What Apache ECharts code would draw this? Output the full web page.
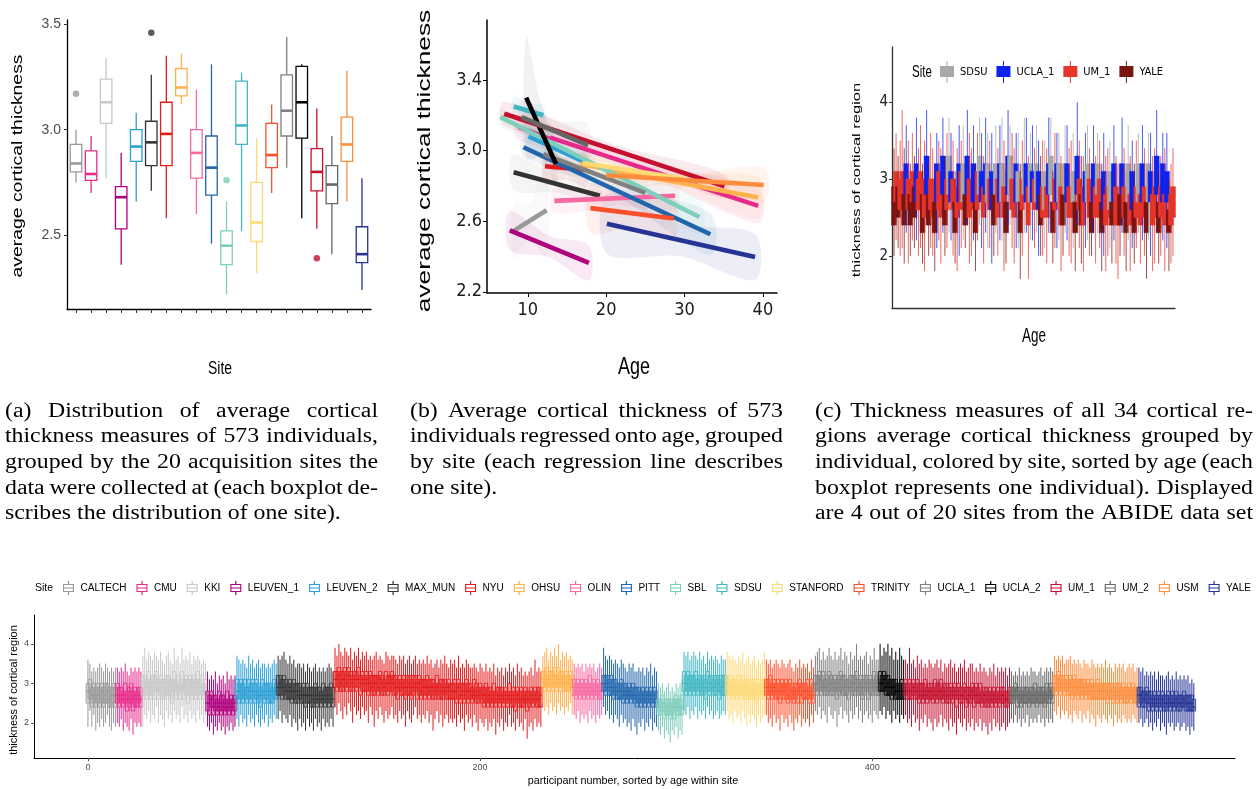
<!DOCTYPE html>
<html>
<head>
<meta charset="utf-8">
<script src="https://cdn.jsdelivr.net/npm/echarts@6/dist/echarts.min.js"></script>
<style>
  html, body { margin: 0; padding: 0; background: #fff; }
  #main { width: 1257px; height: 789px; }
</style>
</head>
<body>
<div id="main"></div>
<script>
// sites, in legend order
const sites = ['CALTECH', 'CMU', 'KKI', 'LEUVEN_1', 'LEUVEN_2', 'MAX_MUN', 'NYU', 'OHSU', 'OLIN', 'PITT',
  'SBL', 'SDSU', 'STANFORD', 'TRINITY', 'UCLA_1', 'UCLA_2', 'UM_1', 'UM_2', 'USM', 'YALE'];
const siteColors = ['#999999', '#e7298a', '#c8c8c8', '#ae017e', '#2c9fd6', '#333333', '#e31a1c', '#feb24c', '#f768a1', '#2166ac',
  '#7fcdbb', '#41b6c4', '#fed976', '#fc4e2a', '#808080', '#000000', '#c4102e', '#666666', '#fd8d3c', '#253494'];

// (a) one boxplot per site
const boxLow = [2.75, 2.70, 2.77, 2.36, 2.66, 2.71, 2.58, 3.12, 2.60, 2.46, 2.22, 2.52, 2.32, 2.70, 2.82, 2.58, 2.53, 2.41, 2.66, 2.24];
const boxQ1 = [2.80, 2.76, 3.03, 2.53, 2.85, 2.83, 2.83, 3.16, 2.77, 2.69, 2.36, 2.93, 2.47, 2.82, 2.97, 2.96, 2.71, 2.65, 2.85, 2.37];
const boxMed = [2.84, 2.79, 3.13, 2.68, 2.92, 2.94, 2.98, 3.20, 2.89, 2.82, 2.45, 3.02, 2.56, 2.88, 3.09, 3.13, 2.80, 2.74, 2.93, 2.41];
const boxQ3 = [2.93, 2.90, 3.24, 2.73, 3.00, 3.04, 3.13, 3.29, 3.00, 2.97, 2.52, 3.23, 2.75, 3.03, 3.26, 3.30, 2.91, 2.83, 3.06, 2.54];
const boxHigh = [3.00, 2.97, 3.34, 2.89, 3.08, 3.26, 3.35, 3.36, 3.19, 3.31, 2.66, 3.27, 2.96, 3.12, 3.44, 3.31, 3.10, 2.97, 3.28, 2.77];
const boxOutliers = [[1, 3.17], [6, 3.46], [11, 2.76], [17, 2.39]]; // [site position, value]

// (b) regression line per site: age range, fitted ends, ribbon half widths
const regX0 = [8.2, 8.8, 9.5, 7.7, 10.1, 8.2, 12.2, 16.7, 13.4, 9.45, 6.5, 8.2, 17.0, 18.0, 12.0, 9.8, 7.0, 9.2, 20.0, 20.1];
const regX1 = [12.4, 39.4, 13.0, 17.8, 17.5, 19.2, 17.5, 39.4, 28.8, 33.3, 31.9, 12.0, 30.0, 28.6, 25.0, 13.6, 35.1, 17.7, 40.1, 39.0];
const regY0 = [2.545, 3.133, 3.15, 2.548, 3.08, 2.877, 2.911, 2.924, 2.715, 3.019, 3.19, 3.25, 2.93, 2.674, 2.98, 3.30, 3.209, 3.19, 2.86, 2.586];
const regY1 = [2.662, 2.687, 3.09, 2.364, 2.93, 2.744, 2.89, 2.734, 2.744, 2.526, 2.624, 3.20, 2.84, 2.615, 2.76, 2.924, 2.797, 3.03, 2.805, 2.397];
const regSe0 = [0.16, 0.07, 0.10, 0.11, 0.08, 0.10, 0.10, 0.06, 0.07, 0.05, 0.05, 0.06, 0.05, 0.14, 0.08, 0.35, 0.07, 0.10, 0.06, 0.17];
const regSeMid = [0.10, 0.03, 0.06, 0.06, 0.04, 0.05, 0.06, 0.03, 0.04, 0.03, 0.03, 0.04, 0.03, 0.08, 0.04, 0.15, 0.03, 0.06, 0.03, 0.09];
const regSe1 = [0.28, 0.10, 0.12, 0.10, 0.08, 0.05, 0.10, 0.12, 0.08, 0.12, 0.10, 0.06, 0.06, 0.12, 0.10, 0.12, 0.07, 0.12, 0.10, 0.13];

// per individual boxplots: [low, q1, median, q3, high] in tenths, sorted by age within site
const indCALTECH = [[19,25,28,30,36],[23,26,28,31,35],[19,24,27,29,33],[22,25,27,30,34],[18,24,26,29,33],[20,25,27,30,34],[19,24,27,29,35],[21,25,28,30,34],[19,24,26,29,33],[20,25,27,30,35],[22,25,28,30,34],[19,24,26,29,33],[18,24,27,29,34],[20,25,27,30,33],[19,24,27,29,34]];
const indCMU = [[20,25,27,30,34],[19,24,26,29,33],[21,25,27,29,34],[18,24,26,28,33],[20,25,27,30,35],[19,23,26,28,33],[18,24,26,29,32],[21,25,28,30,34],[17,23,26,28,33],[20,24,27,29,34],[19,24,26,28,33],[20,25,27,29,34],[19,24,26,29,33]];
const indKKI = [[19,27,29,32,37],[22,27,30,32,39],[21,26,29,31,36],[23,27,30,33,38],[20,26,29,31,37],[22,27,30,32,36],[21,26,29,32,38],[24,28,30,33,37],[20,26,28,31,36],[22,27,30,32,38],[21,26,29,31,36],[19,26,28,31,35],[23,27,30,32,37],[21,27,29,32,38],[22,26,29,31,36],[20,25,28,31,35],[23,28,30,33,39],[21,26,29,31,36],[22,27,29,32,37],[20,26,28,30,35],[24,28,31,33,39],[21,26,29,31,36],[22,27,30,32,37],[20,25,28,31,36],[23,27,29,32,38],[21,26,29,31,35],[22,27,30,32,37],[20,26,28,31,36],[23,27,30,33,37],[21,26,29,31,36],[22,27,29,32,35],[20,26,28,30,36],[22,27,29,31,35]];
const indLEUVEN_1 = [[19,23,25,28,33],[18,22,25,27,31],[20,24,26,28,32],[17,22,24,27,31],[19,23,25,27,33],[18,22,24,26,30],[20,23,25,28,32],[18,22,24,27,31],[19,23,25,27,32],[17,22,24,26,30],[19,23,25,28,33],[18,22,24,26,31],[20,23,25,27,32],[18,22,24,26,31],[19,23,25,27,32]];
const indLEUVEN_2 = [[21,26,28,31,37],[19,25,28,30,36],[22,26,29,31,35],[20,25,27,30,36],[21,26,28,31,35],[19,25,27,29,34],[22,26,29,31,37],[20,25,28,30,35],[21,26,28,31,36],[19,25,27,30,34],[22,26,28,31,35],[20,25,27,30,36],[19,24,27,29,34],[21,26,28,31,35],[20,25,27,30,35],[22,26,28,30,34],[19,25,27,30,35],[21,25,28,30,34],[20,25,27,29,35],[22,26,28,31,36],[21,26,28,30,35]];
const indMAX_MUN = [[21,27,29,32,37],[23,27,30,32,36],[20,26,29,31,37],[22,27,29,32,38],[21,26,28,31,36],[20,26,28,30,35],[22,26,29,31,37],[19,25,28,30,35],[21,26,28,31,36],[20,25,28,30,34],[18,25,27,30,35],[21,26,28,30,35],[19,25,27,29,34],[20,25,27,30,35],[18,24,27,29,33],[21,25,27,30,35],[19,25,27,29,34],[20,24,27,29,33],[18,24,26,29,34],[21,25,27,30,35],[19,24,26,29,33],[20,25,27,29,34],[18,24,26,28,33],[21,25,27,30,34],[19,24,26,29,33],[20,25,27,29,34],[19,24,26,29,35],[21,25,27,30,34],[19,24,26,29,33]];
const indNYU = [[24,29,31,33,39],[22,28,31,33,37],[25,29,32,34,40],[23,28,30,33,38],[21,28,31,33,37],[24,29,31,34,39],[22,28,30,33,38],[25,29,32,34,37],[23,28,31,33,39],[20,28,30,32,36],[24,29,31,33,38],[22,28,31,33,37],[23,29,31,34,39],[21,27,30,32,36],[24,28,31,33,38],
  [22,28,30,32,37],[23,28,31,33,38],[20,27,30,32,36],[24,28,30,33,37],[22,27,29,32,36],[19,27,30,32,37],[23,28,30,32,38],[21,27,29,32,36],[24,28,31,33,37],[22,27,30,32,36],[20,27,29,31,35],[23,28,30,33,38],[21,27,30,32,37],[22,28,30,32,36],[24,28,31,33,37],
  [21,27,30,32,37],[22,27,29,32,36],[20,26,29,31,35],[23,28,30,32,37],[21,27,29,31,36],[22,27,30,32,37],[19,26,29,31,35],[23,27,29,32,36],[21,27,30,32,37],[20,26,29,31,35],[22,27,29,32,36],[24,28,30,32,37],[21,26,29,31,35],[22,27,30,32,36],[20,26,28,31,35],
  [22,27,29,31,36],[21,26,29,31,35],[23,27,29,32,37],[20,26,28,31,35],[22,27,29,31,36],[18,26,29,31,34],[21,26,28,30,35],[23,27,29,32,36],[20,26,28,30,34],[22,26,29,31,36],[19,26,28,31,35],[21,27,29,31,37],[22,26,28,30,35],[20,26,29,31,34],[21,26,28,30,36],
  [20,26,28,30,35],[21,26,28,31,36],[19,25,28,30,34],[22,26,29,31,37],[20,25,27,30,34],[21,26,28,30,35],[18,25,27,30,34],[22,26,28,31,36],[20,25,28,30,35],[21,26,28,30,34],[19,25,27,29,34],[22,26,28,31,35],[20,25,27,30,34],[18,25,27,29,33],[21,26,28,30,35],
  [20,25,27,29,34],[19,24,27,29,33],[21,25,27,30,35],[18,24,26,29,33],[20,25,27,29,34],[19,24,26,28,33],[21,25,27,30,35],[17,24,26,28,32],[20,25,27,29,34],[19,24,26,29,33],[21,25,27,29,34],[18,24,26,28,32],[20,25,27,29,34],[19,24,26,28,33],[22,25,27,30,35],
  [19,24,26,28,33],[20,24,27,29,34],[18,23,26,28,32],[21,25,27,29,35],[19,24,26,28,33],[20,24,26,29,34],[18,24,26,28,32],[21,25,27,29,33],[16,23,26,28,32],[19,24,26,28,33],[20,25,27,29,34],[18,24,26,28,32],[21,25,27,29,36],[19,24,26,28,33],[20,24,26,29,34],[19,24,27,29,33]];
const indOHSU = [[25,29,31,33,37],[23,28,30,33,38],[24,29,31,34,39],[22,28,30,32,36],[25,29,31,33,38],[23,28,30,33,37],[24,29,32,34,39],[22,28,30,32,37],[25,29,31,34,40],[23,28,30,33,36],[24,29,31,33,38],[22,28,30,32,37],[24,28,30,33,38],[23,28,30,32,36],[25,29,31,33,37],[22,27,29,32,36]];
const indOLIN = [[22,27,29,31,35],[21,26,28,30,34],[23,27,29,31,35],[20,26,28,30,34],[22,27,29,31,35],[21,26,28,30,33],[22,27,29,31,35],[20,26,28,30,34],[23,27,29,32,35],[21,26,28,30,34],[22,27,28,31,35],[20,26,28,30,33],[22,27,29,31,34],[21,26,28,30,35],[22,26,28,30,34]];
const indPITT = [[24,28,30,32,39],[22,27,29,32,37],[23,28,30,32,36],[21,27,29,31,37],[22,27,29,32,36],[20,26,28,31,35],[22,27,29,31,36],[21,26,28,30,35],[19,26,28,30,34],[22,26,28,31,36],[20,25,27,30,35],[21,26,28,30,34],[19,25,27,29,33],[20,26,28,30,35],[18,25,27,29,34],[21,26,27,30,35],[19,25,27,29,33],[17,24,26,29,33],[20,25,27,29,34],[19,24,26,28,33],[21,25,27,29,34],[18,24,26,28,32],[20,25,27,29,34],[19,24,26,28,33],[21,25,27,29,35],[18,24,26,28,32],[20,25,27,29,34],[19,24,26,28,33]];
const indSBL = [[18,22,24,26,30],[17,22,24,26,29],[19,23,25,27,30],[16,21,23,25,28],[18,22,24,26,29],[17,22,24,26,30],[15,21,23,25,28],[18,22,24,26,29],[17,21,24,26,28],[19,23,25,27,30],[16,22,24,26,29],[18,22,24,26,30],[17,22,24,27,31]];
const indSDSU = [[23,28,30,33,38],[22,27,30,32,37],[24,28,31,33,38],[21,27,29,32,36],[23,28,30,32,37],[22,27,29,32,38],[24,28,30,33,37],[21,27,29,31,36],[23,28,30,32,38],[22,27,30,32,36],[23,27,29,32,37],[21,26,29,31,35],[24,28,30,33,38],[22,27,29,32,36],[23,28,30,32,37],[21,27,29,31,36],[22,27,29,32,37],[23,28,30,32,36],[21,26,28,31,35],[22,27,29,32,37],[23,27,29,32,36],[22,27,30,32,36]];
const indSTANFORD = [[23,27,29,32,38],[21,26,29,31,37],[22,27,29,32,36],[20,26,28,31,37],[23,27,29,31,36],[21,26,28,31,35],[22,27,29,32,37],[20,26,28,30,36],[23,27,29,32,38],[21,26,28,31,35],[19,26,28,31,36],[22,27,29,31,37],[20,26,28,30,35],[22,26,28,31,36],[21,26,28,31,37],[19,25,28,30,34],[22,27,29,31,36],[20,26,28,30,35],[21,26,28,31,36],[22,27,29,31,38]];
const indTRINITY = [[22,27,29,31,36],[20,26,28,31,35],[21,27,29,32,36],[19,26,28,30,34],[22,27,29,31,35],[20,26,28,30,36],[21,26,28,31,35],[18,25,28,30,34],[22,27,29,31,36],[20,26,28,30,35],[21,26,29,31,34],[19,25,27,30,35],[22,26,28,31,36],[20,26,28,30,34],[18,25,27,29,33],[21,26,28,30,35],[20,25,28,30,34],[22,27,29,31,36],[19,25,27,30,34],[21,26,28,30,35],[20,26,28,30,34],[21,26,28,31,35],[19,25,27,29,33],[22,26,28,31,36],[20,25,27,30,34]];
const indUCLA_1 = [[23,28,30,32,37],[22,27,30,32,38],[24,28,31,33,39],[21,27,29,32,36],[23,28,30,33,38],[22,27,29,31,36],[20,27,29,32,37],[24,28,30,33,39],[22,27,30,32,37],[21,27,29,31,36],[23,28,30,32,38],[19,26,29,31,36],[22,27,30,32,37],[24,28,31,33,39],[21,27,29,32,36],[23,27,30,32,38],[22,27,29,31,37],[20,26,29,31,35],[23,28,30,32,38],[21,27,29,32,36],[22,27,30,32,37],[24,28,31,33,40],[21,27,29,31,36],[23,27,30,32,37],[20,26,29,31,36],[22,27,29,32,37],[23,28,30,32,38],[21,26,29,31,35],[22,27,30,32,37],[20,27,29,31,36],[23,28,30,33,39],[22,27,29,32,36],[21,27,29,31,36]];
const indUCLA_2 = [[23,28,30,33,40],[22,28,30,32,37],[24,28,31,33,39],[21,27,29,32,38],[23,27,30,32,40],[22,27,29,31,37],[20,26,29,31,39],[23,27,29,31,36],[21,26,28,31,38],[22,26,28,30,36],[20,26,28,30,39],[22,26,28,31,37],[21,26,28,30,36]];
const indUM_1 = [[22,27,29,31,36],[20,26,28,30,35],[21,26,28,31,39],[19,26,28,30,35],[22,27,29,31,36],[20,26,28,30,34],[21,26,28,31,37],[18,25,27,30,35],[21,26,28,30,36],[20,25,27,30,34],[22,26,28,31,35],[19,25,27,29,34],[21,26,28,30,36],[20,26,28,30,35],[18,25,27,29,34],[21,26,28,31,35],[19,25,27,30,36],[20,26,28,30,34],[22,26,28,31,36],[19,25,27,29,33],[21,26,28,30,35],[20,25,27,30,34],[18,25,27,29,35],[21,26,28,30,36],[19,25,27,29,34],[20,26,28,30,35],[17,24,27,29,33],[21,26,28,30,34],[20,25,27,29,35],[19,25,27,29,34],[21,26,28,30,36],[18,24,26,29,33],[20,25,27,29,34],[19,25,27,29,35],[21,26,28,30,35],[18,24,27,29,33],[20,25,27,30,34],[19,25,27,29,33],[21,25,27,30,35],[18,24,26,28,33],[20,25,27,29,34],[19,24,27,29,33],[17,24,26,28,32],[20,25,27,29,34],[18,24,26,28,33],[21,25,27,29,35],[19,24,26,28,32],[20,25,27,29,34],[18,24,26,28,33],[19,25,27,29,34],[20,25,27,29,33],[18,24,26,28,34],[19,24,26,28,32],[20,25,27,29,34]];
const indUM_2 = [[21,25,27,29,33],[20,25,27,29,32],[22,26,28,30,33],[20,24,27,29,32],[21,25,27,29,34],[19,24,26,28,32],[21,25,27,29,33],[20,25,27,29,32],[22,25,27,29,33],[19,24,26,28,32],[21,25,27,29,34],[20,25,27,29,33],[21,25,27,30,33],[20,24,26,28,32],[22,25,27,29,33],[20,25,27,29,34],[21,25,27,29,32],[19,24,26,28,33],[21,25,27,30,34],[20,25,27,29,33],[21,26,28,30,34],[20,25,27,29,33]];
const indUSM = [[23,28,30,32,37],[22,27,30,32,36],[24,28,31,33,37],[21,27,29,32,36],[23,28,30,32,37],[22,27,29,31,35],[23,28,30,32,36],[21,27,29,31,36],[22,27,30,32,37],[20,26,29,31,35],[23,27,29,32,36],[22,27,29,31,35],[21,26,28,31,36],[23,27,29,31,35],[20,26,28,31,34],[22,27,29,31,36],[21,26,28,30,35],[23,27,29,31,35],[20,26,28,30,34],[22,26,28,31,36],[21,26,28,30,35],[19,26,28,30,34],[22,26,28,31,35],[21,26,28,30,34],[20,26,28,30,35],[22,26,28,30,34],[21,26,28,30,36],[20,25,27,30,34],[22,26,28,30,35],[21,26,28,30,34],[19,25,27,29,33],[22,26,28,30,35],[20,25,27,30,34],[21,26,28,30,35],[20,25,27,29,34],[22,26,28,30,35],[21,25,27,29,33],[20,25,27,29,34],[21,26,28,30,35],[20,25,27,29,34],[22,26,28,30,35],[21,25,27,29,33],[20,25,27,29,34]];
const indYALE = [[20,24,27,29,34],[21,25,27,29,33],[19,24,26,28,34],[20,24,26,28,32],[21,25,27,29,33],[19,23,25,28,32],[20,24,26,28,33],[18,23,25,27,32],[20,24,26,28,33],[19,23,25,27,31],[21,24,26,28,33],[18,23,25,27,32],[20,24,26,28,32],[19,23,25,27,31],[17,23,25,27,32],[20,24,26,28,33],[19,23,25,27,31],[20,24,25,28,32],[18,23,25,27,31],[19,24,26,28,33],[20,23,25,27,31],[18,23,25,27,32],[19,24,25,27,31],[20,24,26,28,32],[18,23,25,27,31],[19,23,25,27,32],[17,23,25,27,30],[19,23,25,27,31],[18,23,24,26,30]];
const individuals = [indCALTECH, indCMU, indKKI, indLEUVEN_1, indLEUVEN_2, indMAX_MUN, indNYU, indOHSU, indOLIN, indPITT,
  indSBL, indSDSU, indSTANFORD, indTRINITY, indUCLA_1, indUCLA_2, indUM_1, indUM_2, indUSM, indYALE];

// (c) four sites, individuals interleaved by age (S=SDSU, U=UCLA_1, M=UM_1, Y=YALE)
const cSites = ['SDSU', 'UCLA_1', 'UM_1', 'YALE'];
const cCodes = ['S', 'U', 'M', 'Y'];
const cColors = ['#a8a8a8', '#0b22f0', '#e5352b', '#7a1410'];
const cAgeOrder = 'YMYMMYUMYMYUMMYMUYMMYUM' + 'MUYMSUMYMUMSYUMMUYMSUMU' + 'SMUYSMUSMYUSMMUSYMSUMSU' +
  'MSUYMSMUSYMUSMYSUMMSYUM' + 'YMUSMYUMSMYUMMSYUMMYUMY' + 'SMUYMSMUMYSUMMUYMUMUYMM';

// captions
const capA = ['(a) Distribution of average cortical', 'thickness measures of 573 individuals,',
  'grouped by the 20 acquisition sites the', 'data were collected at (each boxplot de-', 'scribes the distribution of one site).'];
const capB = ['(b) Average cortical thickness of 573', 'individuals regressed onto age, grouped',
  'by site (each regression line describes', 'one site).'];
const capC = ['(c) Thickness measures of all 34 cortical re-', 'gions  average cortical thickness grouped by',
  'individual, colored by site, sorted by age (each', 'boxplot represents one individual). Displayed',
  'are 4 out of 20 sites from the ABIDE data set'];

const SANS = '"Liberation Sans", Arial, sans-serif';
const NARROW = '"Liberation Sans Narrow", "DejaVu Sans Condensed", "Liberation Sans", sans-serif';
const SERIF = '"Liberation Serif", "Times New Roman", serif';

function rgba(hex, a) {
  const n = parseInt(hex.slice(1), 16);
  return 'rgba(' + (n >> 16) + ',' + ((n >> 8) & 255) + ',' + (n & 255) + ',' + a + ')';
}

// draws one boxplot glyph from [x, low, q1, med, q3, high]
function boxRender(colorOf, o) {
  return function (params, api) {
    const x = api.value(0);
    const lo = api.coord([x, api.value(1)]);
    const q1 = api.coord([x, api.value(2)]);
    const md = api.coord([x, api.value(3)]);
    const q3 = api.coord([x, api.value(4)]);
    const hi = api.coord([x, api.value(5)]);
    const c = colorOf(params, api);
    const cx = lo[0];
    const h = o.width / 2;
    const wStyle = { stroke: c, lineWidth: o.whisker, opacity: o.whiskerOpacity };
    return {
      type: 'group',
      children: [
        { type: 'line', shape: { x1: cx, y1: hi[1], x2: cx, y2: q3[1] }, style: wStyle },
        { type: 'line', shape: { x1: cx, y1: q1[1], x2: cx, y2: lo[1] }, style: wStyle },
        { type: 'rect', shape: { x: cx - h, y: q3[1], width: o.width, height: q1[1] - q3[1] },
          style: { fill: o.fill(c), stroke: c, lineWidth: o.border } },
        { type: 'line', shape: { x1: cx - h, y1: md[1], x2: cx + h, y2: md[1] }, style: { stroke: c, lineWidth: o.median } }
      ]
    };
  };
}

function caption(lines, left, right, top, justifyLast) {
  const size = 20, sx = 1.19, step = 25.6;
  const font = size + 'px ' + SERIF;
  const ctx = document.createElement('canvas').getContext('2d');
  ctx.font = font;
  const out = [];
  lines.forEach((line, i) => {
    const y = top + i * step;
    const words = line.split(' ').filter(w => w.length);
    const widths = words.map(w => ctx.measureText(w).width * sx);
    const just = (i < lines.length - 1 || justifyLast) && words.length > 1;
    const space = ctx.measureText(' ').width * sx;
    const total = widths.reduce((a, b) => a + b, 0);
    const gap = just ? (right - left - total) / (words.length - 1) : space;
    let x = left;
    words.forEach((w, j) => {
      out.push({ type: 'text', x: x, y: y, scaleX: sx, silent: true,
        style: { text: w, font: font, fill: '#000', verticalAlign: 'middle', textVerticalAlign: 'middle' } });
      x += widths[j] + gap;
    });
  });
  return out;
}

function title(text, x, y, size, opts) {
  return Object.assign({ type: 'text', x: x, y: y, silent: true,
    style: { text: text, font: size + 'px ' + SANS, fill: opts.color || '#000',
      align: 'center', textAlign: 'center', verticalAlign: 'middle', textVerticalAlign: 'middle' } }, opts.t || {});
}

// legend glyph: boxplot outline with whiskers, and a filled one for (c)
const iconBoxOutline = 'path://M6.4 0H7.6V3H6.4Z M1.5 3H12.5V11H1.5Z M2.6 4.1V6.4H11.4V4.1Z M2.6 7.6V9.9H11.4V7.6Z M6.4 11H7.6V14H6.4Z';
const iconBoxFilled = 'path://M6.5 0H7.5V5H6.5Z M0 5H14V16H0Z M6.5 16H7.5V22H6.5Z';

const chart = echarts.init(document.getElementById('main'));

// (a) series
const aData = sites.map((s, i) => [i + 1, boxLow[i], boxQ1[i], boxMed[i], boxQ3[i], boxHigh[i]]);
const series = [{
  type: 'custom', xAxisIndex: 0, yAxisIndex: 0, name: 'sites',
  renderItem: boxRender(p => siteColors[p.dataIndex],
    { width: 11.5, whisker: 1.3, whiskerOpacity: 1, border: 1.3, median: 2.6, fill: () => '#fff' }),
  data: aData, z: 2
}, {
  type: 'scatter', xAxisIndex: 0, yAxisIndex: 0, symbolSize: 6.5,
  data: boxOutliers.map(o => ({ value: o, itemStyle: { color: siteColors[o[0] - 1] } })), z: 3
}];

// (b) ribbons then lines
const greyish = ['#999999', '#c8c8c8', '#333333', '#808080', '#000000', '#666666'];
series.push({
  type: 'custom', xAxisIndex: 1, yAxisIndex: 1, z: 2,
  renderItem: function (params, api) {
    const i = params.dataIndex;
    const xm = (regX0[i] + regX1[i]) / 2, ym = (regY0[i] + regY1[i]) / 2;
    const pts = [[regX0[i], regY0[i] + regSe0[i]], [xm, ym + regSeMid[i]], [regX1[i], regY1[i] + regSe1[i]],
      [regX1[i], regY1[i] - regSe1[i]], [xm, ym - regSeMid[i]], [regX0[i], regY0[i] - regSe0[i]]].map(p => api.coord(p));
    const a = greyish.indexOf(siteColors[i]) >= 0 ? 0.05 : 0.085;
    return { type: 'polygon', shape: { points: pts, smooth: 0.3 }, style: { fill: rgba(siteColors[i], a) } };
  },
  data: sites.map((s, i) => [regX0[i], regY0[i]])
});
sites.forEach((s, i) => {
  series.push({
    type: 'line', xAxisIndex: 1, yAxisIndex: 1, name: 'reg_' + s, showSymbol: false, z: 3,
    lineStyle: { color: siteColors[i], width: 4.6, cap: 'butt' },
    data: [[regX0[i], regY0[i]], [regX1[i], regY1[i]]]
  });
});

// (c) interleaved individuals, drawn in age order
const cData = [];
const cNext = [0, 0, 0, 0];
cAgeOrder.split('').forEach((code, pos) => {
  const k = cCodes.indexOf(code);
  const list = individuals[sites.indexOf(cSites[k])];
  const t = list[cNext[k]++];
  if (t) cData.push([pos, t[0] / 10, t[1] / 10, t[2] / 10, t[3] / 10, t[4] / 10, k]);
});
series.push({
  type: 'custom', xAxisIndex: 2, yAxisIndex: 2, z: 2,
  renderItem: boxRender((p, api) => cColors[api.value(6)],
    { width: 5, whisker: 1, whiskerOpacity: 0.75, border: 0.5, median: 0.8, fill: c => c }),
  data: cData
});
cSites.forEach((s, k) => {
  series.push({ type: 'custom', name: 'c:' + s, xAxisIndex: 2, yAxisIndex: 2,
    itemStyle: { color: cColors[k] }, renderItem: () => null, data: [] });
});

// bottom: every individual
let pos = 0;
sites.forEach((s, k) => {
  const data = individuals[k].map(t => [pos++, t[0] / 10, t[1] / 10, t[2] / 10, t[3] / 10, t[4] / 10]);
  series.push({
    type: 'custom', name: s, xAxisIndex: 3, yAxisIndex: 3, z: 2,
    itemStyle: { color: siteColors[k] },
    renderItem: boxRender(() => siteColors[k],
      { width: 3.6, whisker: 1, whiskerOpacity: 1, border: 0.8, median: 1, fill: c => rgba(c, 0.45) }),
    data: data
  });
});

const axisBase = { type: 'value', splitLine: { show: false } };
const line = (color, width) => ({ onZero: false, lineStyle: { color: color, width: width } });
const option = {
  animation: false,
  backgroundColor: '#fff',
  grid: [
    { left: 67, top: 20, width: 304, height: 289, outerBoundsMode: 'none' },
    { left: 487, top: 20, width: 290, height: 273, outerBoundsMode: 'none' },
    { left: 892, top: 47, width: 283, height: 261, outerBoundsMode: 'none' },
    { left: 34, top: 615, width: 1201, height: 143, outerBoundsMode: 'none' }
  ],
  xAxis: [
    Object.assign({}, axisBase, { gridIndex: 0, min: 0.4, max: 20.6, axisLine: line('#000', 1.3),
      axisTick: { customValues: sites.map((s, i) => i + 1), length: 4, lineStyle: { color: '#333' } },
      axisLabel: { show: false } }),
    Object.assign({}, axisBase, { gridIndex: 1, min: 4.8, max: 41.8, axisLine: line('#000', 1.5),
      axisTick: { customValues: [10, 20, 30, 40], length: 4, lineStyle: { color: '#000' } },
      axisLabel: { customValues: [10, 20, 30, 40], fontSize: 18, fontFamily: NARROW, color: '#1a1a1a', margin: 8 } }),
    Object.assign({}, axisBase, { gridIndex: 2, min: -1, max: 138, axisLine: line('#333', 1.3),
      axisTick: { show: false }, axisLabel: { show: false } }),
    Object.assign({}, axisBase, { gridIndex: 3, min: -27.5, max: 585, axisLine: line('#000', 1),
      axisTick: { customValues: [0, 200, 400], length: 3, lineStyle: { color: '#555' } },
      axisLabel: { customValues: [0, 200, 400], fontSize: 9, fontFamily: SANS, color: '#4d4d4d', margin: 5 } })
  ],
  yAxis: [
    Object.assign({}, axisBase, { gridIndex: 0, min: 2.15, max: 3.52, axisLine: line('#000', 1.3),
      axisTick: { customValues: [2.5, 3, 3.5], length: 3, lineStyle: { color: '#333' } },
      axisLabel: { customValues: [2.5, 3, 3.5], formatter: v => v.toFixed(1), fontSize: 14, fontFamily: SANS, color: '#4d4d4d', margin: 6 } }),
    Object.assign({}, axisBase, { gridIndex: 1, min: 2.193, max: 3.74, axisLine: line('#000', 1.5),
      axisTick: { customValues: [2.2, 2.6, 3, 3.4], length: 4, lineStyle: { color: '#000' } },
      axisLabel: { customValues: [2.2, 2.6, 3, 3.4], formatter: v => v.toFixed(1), fontSize: 18, fontFamily: NARROW, color: '#1a1a1a', margin: 5 } }),
    Object.assign({}, axisBase, { gridIndex: 2, min: 1.32, max: 4.72, axisLine: line('#333', 1.3),
      axisTick: { customValues: [2, 3, 4], length: 3, lineStyle: { color: '#333' } },
      axisLabel: { customValues: [2, 3, 4], fontSize: 15, fontFamily: NARROW, color: '#222', margin: 4 } }),
    Object.assign({}, axisBase, { gridIndex: 3, min: 1.11, max: 4.73, axisLine: line('#000', 1),
      axisTick: { customValues: [2, 3, 4], length: 3, lineStyle: { color: '#555' } },
      axisLabel: { customValues: [2, 3, 4], fontSize: 9, fontFamily: SANS, color: '#4d4d4d', margin: 5 } })
  ],
  legend: [{
    data: sites.map(s => ({ name: s, icon: iconBoxOutline })),
    left: 63, top: 581, width: 1194, itemWidth: 14, itemHeight: 14, itemGap: 10, padding: 0,
    selectedMode: false,
    textStyle: { fontSize: 10, fontFamily: SANS, color: '#000' }
  }, {
    data: cSites.map(s => ({ name: 'c:' + s, icon: iconBoxFilled })),
    formatter: n => n.slice(2),
    left: 940, top: 61, width: 300, itemWidth: 16, itemHeight: 22, itemGap: 9, padding: 0,
    selectedMode: false,
    textStyle: { fontSize: 11, fontFamily: NARROW, color: '#000' }
  }],
  graphic: [
    title('average cortical thickness', 18, 166, 14, { t: { rotation: Math.PI / 2, scaleX: 1.385 } }),
    title('Site', 220, 369, 14, { t: { scaleY: 1.3 } }),
    title('average cortical thickness', 425, 161, 18, { t: { rotation: Math.PI / 2, scaleX: 1.46 } }),
    title('Age', 634, 368, 18, { t: { scaleY: 1.3 } }),
    title('thickness of cortical region', 857, 180, 11, { t: { rotation: Math.PI / 2, scaleX: 1.5 } }),
    title('Age', 1034, 336, 13.5, { t: { scaleY: 1.55 } }),
    title('Site', 922, 72, 11.5, { t: { scaleY: 1.45 } }),
    title('Site', 44, 588, 10.5, {}),
    title('thickness of cortical region', 14, 690, 11, { t: { rotation: Math.PI / 2 } }),
    title('participant number, sorted by age within site', 633, 781, 10.8, {})
  ].concat(caption(capA, 5, 378, 411.5, false))
   .concat(caption(capB, 410, 783, 411.5, false))
   .concat(caption(capC, 815, 1253, 411.5, true)),
  series: series
};

chart.setOption(option);
</script>
</body>
</html>
